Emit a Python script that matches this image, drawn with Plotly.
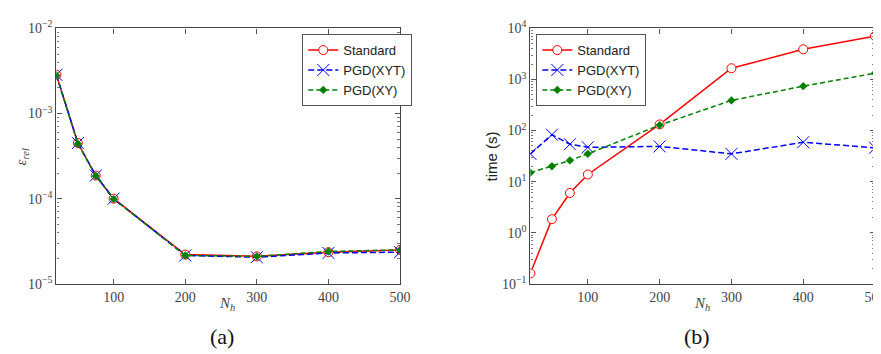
import plotly.graph_objects as go

# ---- data ----
N = [20, 50, 75, 100, 200, 300, 400, 500]

err_std = [2.85e-3, 4.5e-4, 1.87e-4, 1.0e-4, 2.2e-5, 2.1e-5, 2.35e-5, 2.5e-5]
err_xyt = [2.85e-3, 4.5e-4, 1.87e-4, 1.0e-4, 2.15e-5, 2.05e-5, 2.3e-5, 2.35e-5]
err_xy = [2.8e-3, 4.4e-4, 1.85e-4, 0.99e-4, 2.15e-5, 2.1e-5, 2.4e-5, 2.5e-5]

time_std = [0.16, 1.84, 6.0, 13.8, 132, 1660, 3900, 7100]
time_xyt = [35, 83, 54, 47, 49, 35, 59, 46]
time_xy = [15, 20, 26, 35, 128, 390, 740, 1330]

series_names = ["Standard", "PGD(XYT)", "PGD(XY)"]
x_ticks = [100, 200, 300, 400, 500]
left_decades = [-5, -4, -3, -2]
right_decades = [-1, 0, 1, 2, 3, 4]

W, H = 881, 354
serif = "Liberation Serif, DejaVu Serif, serif"
sans = "Liberation Sans, Arial, sans-serif"

fig = go.Figure()

styles = [
    dict(line=dict(color="red", width=1.5),
         marker=dict(symbol="circle", size=9, color="white",
                     line=dict(color="red", width=1))),
    dict(line=dict(color="blue", width=1.5, dash="6px,3px"),
         marker=dict(symbol="x-thin-open", size=12,
                     line=dict(color="blue", width=1), color="blue")),
    dict(line=dict(color="green", width=1.5, dash="5px,3px"),
         marker=dict(symbol="diamond", size=6, color="green",
                     line=dict(color="green", width=0.5))),
]

for name, ys, st in zip(series_names, [err_std, err_xyt, err_xy], styles):
    fig.add_trace(go.Scatter(x=N, y=ys, name=name, mode="lines+markers",
                             xaxis="x", yaxis="y", legend="legend", **st))
for name, ys, st in zip(series_names, [time_std, time_xyt, time_xy], styles):
    fig.add_trace(go.Scatter(x=N, y=ys, name=name, mode="lines+markers",
                             xaxis="x2", yaxis="y2", legend="legend2",
                             cliponaxis=True, **st))


def px_x(p):
    return p / W


def px_y(p):
    return (H - p) / H


def minor_vals(decs):
    vals = []
    for d in decs[:-1]:
        for m in range(2, 10):
            vals.append(m * 10 ** d)
    return vals


axis_common = dict(showgrid=False, zeroline=False, showline=True,
                   linecolor="#444", linewidth=1.3, mirror="ticks",
                   ticks="inside", tickcolor="#555", ticklen=5,
                   tickfont=dict(family=serif, size=14, color="#444"))

def ylog(decs):
    return dict(type="log", range=[decs[0], decs[-1]], tickmode="array",
                tickvals=[10 ** d for d in decs],
                ticktext=["10<sup>%s</sup>" % (str(d).replace("-", "−")) for d in decs],
                minor=dict(tickmode="array", tickvals=minor_vals(decs),
                           ticks="inside", ticklen=2.5, tickcolor="#777",
                           showgrid=False),
                **axis_common)

xax = dict(range=[20, 500], tickmode="array", tickvals=x_ticks,
           ticktext=[str(v) for v in x_ticks], **axis_common)

fig.update_layout(
    width=W, height=H, margin=dict(l=0, r=0, t=0, b=0),
    paper_bgcolor="white", plot_bgcolor="white",
    xaxis=dict(domain=[px_x(49), px_x(397)], anchor="y", **xax),
    yaxis=dict(domain=[px_y(280), px_y(11)], anchor="x", **ylog(left_decades)),
    xaxis2=dict(domain=[px_x(529), px_x(878)], anchor="y2", **xax),
    yaxis2=dict(domain=[px_y(280), px_y(11)], anchor="x2", **ylog(right_decades)),
    legend=dict(x=px_x(298), y=px_y(17), xanchor="left", yanchor="top",
                bgcolor="white", bordercolor="#555", borderwidth=1,
                font=dict(family=sans, size=13, color="#222"),
                itemwidth=30, tracegroupgap=0),
    legend2=dict(x=px_x(535), y=px_y(17), xanchor="left", yanchor="top",
                 bgcolor="white", bordercolor="#555", borderwidth=1,
                 font=dict(family=sans, size=13, color="#222"),
                 itemwidth=30, tracegroupgap=0),
    showlegend=True,
)

ann = [
    dict(text="<i>ε<sub>rel</sub></i>", x=px_x(14), y=px_y(146), textangle=-90,
         font=dict(family=serif, size=15, color="#444")),
    dict(text="time (s)", x=px_x(490), y=px_y(146), textangle=-90,
         font=dict(family=sans, size=15, color="#222")),
    dict(text="<i>N<sub>h</sub></i>", x=px_x(222), y=px_y(301),
         font=dict(family=serif, size=15, color="#444")),
    dict(text="<i>N<sub>h</sub></i>", x=px_x(703), y=px_y(301),
         font=dict(family=serif, size=15, color="#444")),
    dict(text="(a)", x=px_x(217), y=px_y(336),
         font=dict(family=serif, size=22, color="#111")),
    dict(text="(b)", x=px_x(698), y=px_y(336),
         font=dict(family=serif, size=22, color="#111")),
]
for a in ann:
    fig.add_annotation(xref="paper", yref="paper", showarrow=False,
                       xanchor="center", yanchor="middle", **a)

fig.write_html("out.html")
